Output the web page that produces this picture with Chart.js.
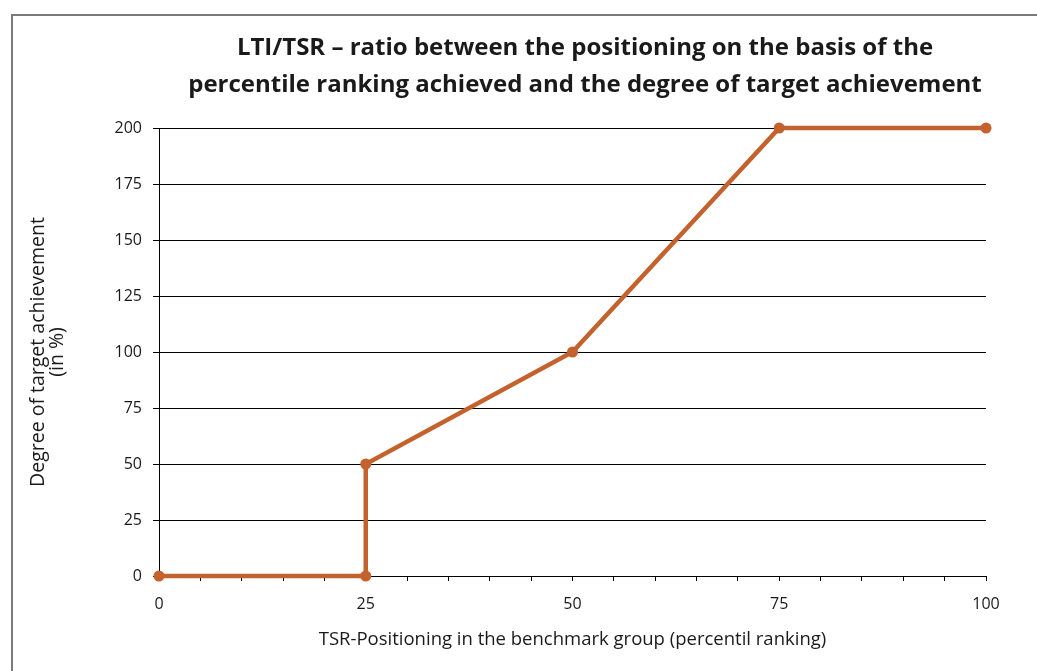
<!DOCTYPE html>
<html>
<head>
<meta charset="utf-8">
<script src="https://cdn.jsdelivr.net/npm/chart.js@4.4.1/dist/chart.umd.min.js"></script>
<style>
  html, body { margin: 0; padding: 0; background: #fff; }
  #wrap { width: 1037px; height: 671px; }
</style>
</head>
<body>
<div id="wrap"><canvas id="chart" width="1037" height="671"></canvas></div>
<script>
const titleLines = [
    'LTI/TSR \u2013 ratio between the positioning on the basis of the',
    'percentile ranking achieved and the degree of target achievement'
]
const xAxisTitle = 'TSR-Positioning in the benchmark group (percentil ranking)'
const yAxisTitle = ['Degree of target achievement', '(in %)']

// percentile ranking -> degree of target achievement
const percentile = [0, 25, 25, 50, 75, 100]
const achievement = [0, 0, 50, 100, 200, 200]
const xLabelTicks = [0, 25, 50, 75, 100]

const lineColor = '#c4622d'
const fontFamily = "'Open Sans'"

// frame and two-line title, drawn like the spreadsheet chart
const frameAndTitle = {
    id: 'frameAndTitle',
    beforeDraw(chart) {
        const ctx = chart.ctx
        ctx.save()
        ctx.fillStyle = '#7a7a7a'
        ctx.fillRect(11, 14, chart.width, 2)
        ctx.fillRect(11, 14, 2, chart.height)
        ctx.restore()
    },
    afterDraw(chart) {
        const ctx = chart.ctx
        ctx.save()
        ctx.fillStyle = '#1a1a1a'
        ctx.font = 'bold 24px ' + fontFamily
        ctx.textAlign = 'center'
        ctx.textBaseline = 'middle'
        titleLines.forEach((t, i) => ctx.fillText(t, 585, 48 + i * 37))
        ctx.restore()
    }
}

new Chart(document.getElementById('chart').getContext('2d'), {
    type: 'line',
    data: {
        datasets: [{
            data: percentile.map((x, i) => ({ x: x, y: achievement[i] })),
            borderColor: lineColor,
            backgroundColor: lineColor,
            borderWidth: 4.5,
            pointRadius: 5.5,
            pointBorderWidth: 0,
            pointBackgroundColor: lineColor,
            tension: 0,
            clip: false
        }]
    },
    options: {
        responsive: false,
        animation: false,
        layout: { padding: { left: 0, right: 51, top: 128, bottom: 0 } },
        plugins: {
            legend: { display: false },
            tooltip: { enabled: false },
            title: { display: false }
        },
        scales: {
            x: {
                type: 'linear',
                min: 0,
                max: 100,
                ticks: {
                    stepSize: 5,
                    autoSkip: false,
                    maxRotation: 0,
                    color: '#1a1a1a',
                    font: { family: fontFamily, size: 16 },
                    padding: 14,
                    callback: v => xLabelTicks.includes(v) ? String(v) : ''
                },
                grid: { drawOnChartArea: false, color: '#000', tickLength: 5 },
                border: { color: '#000', width: 1 },
                title: {
                    display: true,
                    text: xAxisTitle,
                    color: '#1a1a1a',
                    font: { family: fontFamily, size: 18.5 },
                    padding: { top: 0, bottom: 20 }
                },
                afterFit: s => { s.height = 95 }
            },
            y: {
                min: 0,
                max: 200,
                ticks: {
                    stepSize: 25,
                    color: '#1a1a1a',
                    font: { family: fontFamily, size: 16 },
                    padding: 11
                },
                grid: { color: '#000', lineWidth: 1, tickLength: 6 },
                border: { color: '#000', width: 1 },
                title: {
                    display: true,
                    text: yAxisTitle,
                    color: '#1a1a1a',
                    font: { family: fontFamily, size: 19.5, lineHeight: 0.98 },
                    padding: { top: 28.5, bottom: 0 }
                },
                afterFit: s => { s.width = 159 }
            }
        }
    },
    plugins: [frameAndTitle]
})
</script>
</body>
</html>
